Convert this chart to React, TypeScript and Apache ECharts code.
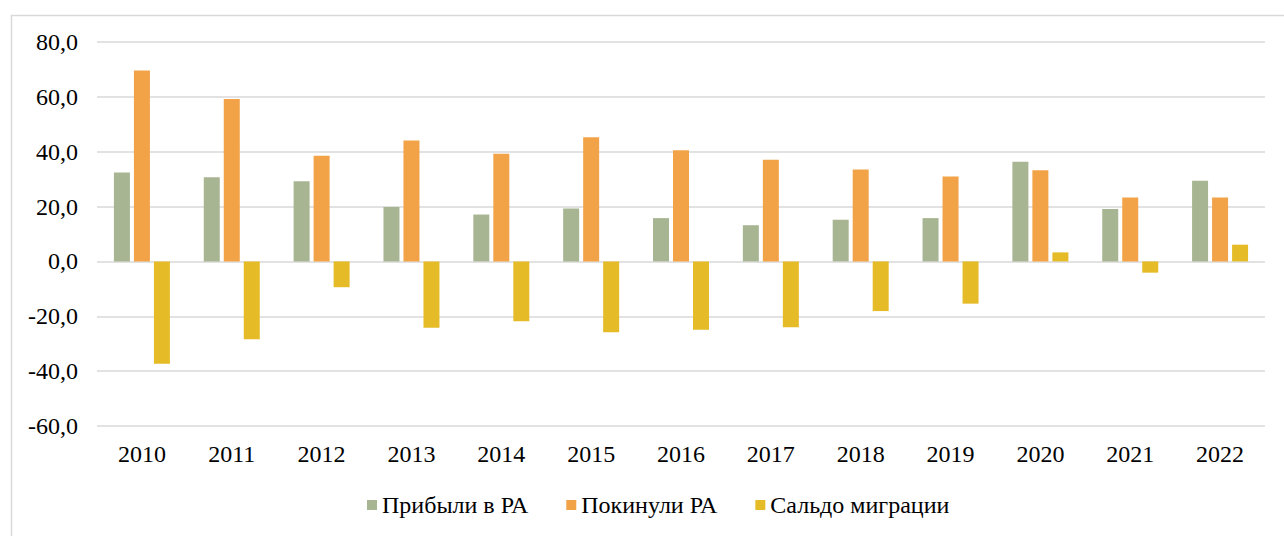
import React, { useEffect, useRef } from "react";
import * as echarts from "echarts";

const years = ["2010", "2011", "2012", "2013", "2014", "2015", "2016", "2017", "2018", "2019", "2020", "2021", "2022"];
const arrived = [32.4, 30.7, 29.2, 19.8, 17.1, 19.3, 15.8, 13.2, 15.2, 15.8, 36.3, 19.1, 29.4];
const left = [69.6, 59.2, 38.5, 44.1, 39.3, 45.3, 40.5, 37.1, 33.5, 31.0, 33.2, 23.3, 23.3];
const balance = [-37.3, -28.4, -9.4, -24.2, -21.8, -25.8, -24.9, -24.0, -18.1, -15.4, 3.3, -4.1, 6.1];
const seriesNames = ["Прибыли в РА", "Покинули РА", "Сальдо миграции"];
const colors = ["#A8B592", "#F2A348", "#E5BC28"];

const FONT = "Liberation Serif";
const FS = 24;

export default function App() {
  const ref = useRef<HTMLDivElement>(null);
  useEffect(() => {
    if (!ref.current) return;
    const chart = echarts.init(ref.current, undefined, { renderer: "svg" });
    const data = [arrived, left, balance];
    chart.setOption({
      animation: false,
      backgroundColor: "#ffffff",
      textStyle: { fontFamily: FONT, fontSize: FS, color: "#000000" },
      graphic: [
        {
          type: "rect",
          left: 9,
          top: 13,
          shape: { x: 0, y: 0, width: 1300, height: 600 },
          style: { fill: "none", stroke: "#D9D9D9", lineWidth: 1.5 },
          silent: true,
          z: -1,
        },
      ],
      grid: { left: 97, right: 19, top: 42, bottom: 110, containLabel: false },
      legend: {
        left: 362,
        top: 488,
        icon: "rect",
        itemWidth: 10,
        itemHeight: 10,
        itemGap: 38,
        textStyle: { fontFamily: FONT, fontSize: FS, color: "#000000" },
        data: seriesNames,
      },
      xAxis: {
        type: "category",
        data: years,
        position: "bottom",
        axisLine: { show: false, onZero: false },
        axisTick: { show: false },
        axisLabel: { fontFamily: FONT, fontSize: FS, color: "#000000", margin: 16 },
      },
      yAxis: {
        type: "value",
        min: -60,
        max: 80,
        interval: 20,
        axisLine: { show: false },
        axisTick: { show: false },
        splitLine: { lineStyle: { color: "#D9D9D9", width: 1.5 } },
        axisLabel: {
          fontFamily: FONT,
          fontSize: FS,
          color: "#000000",
          margin: 19,
          formatter: (v: number) => v.toFixed(1).replace(".", ","),
        },
      },
      series: seriesNames.map((name, i) => ({
        name,
        type: "bar",
        data: data[i],
        barWidth: 16,
        barGap: "25%",
        itemStyle: { color: colors[i] },
      })),
    });
    return () => chart.dispose();
  }, []);
  return (
    <div
      ref={ref}
      style={{ position: "fixed", left: 0, top: 0, width: 1284, height: 536 }}
    />
  );
}
